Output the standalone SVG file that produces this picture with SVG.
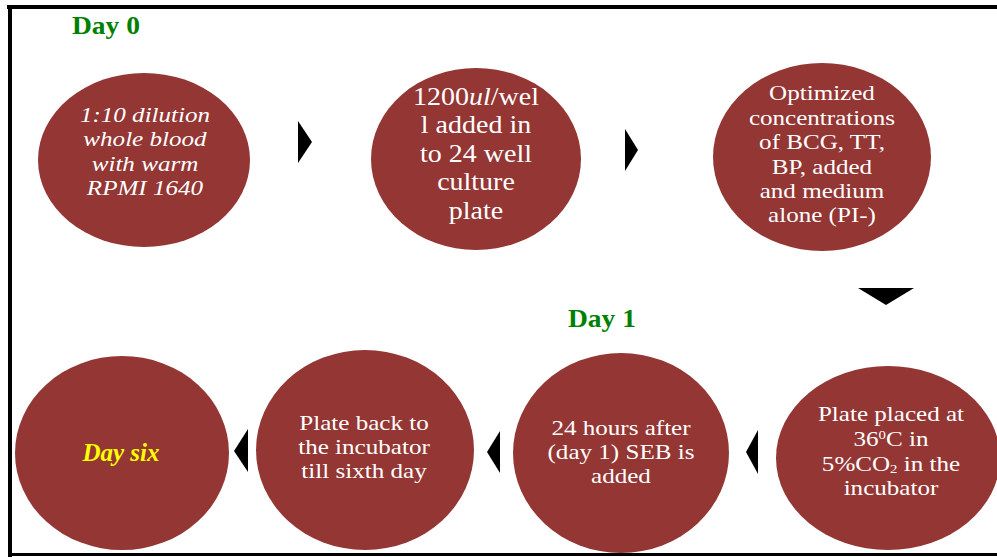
<svg xmlns="http://www.w3.org/2000/svg" width="997" height="557" viewBox="0 0 997 557">
<style>
.c{fill:#933634}
.t{fill:#ffffff;text-anchor:middle;font-size:22px}
.d{fill:#008000;font-weight:bold;font-size:26px}
.a{fill:#000}
</style>
<rect x="0" y="0" width="997" height="557" fill="#fff"/>
<rect x="7" y="5" width="990" height="4" fill="#000"/>
<rect x="8" y="5" width="4" height="552" fill="#000"/>
<rect x="8" y="553" width="989" height="3" fill="#000"/>
<g font-family="'Liberation Serif', 'Times New Roman', serif">
<text class="d" x="72" y="34" textLength="68" lengthAdjust="spacingAndGlyphs">Day 0</text>
<text class="d" x="568" y="327" textLength="68" lengthAdjust="spacingAndGlyphs">Day 1</text>
<g id="n1"><ellipse class="c" cx="144" cy="160" rx="106" ry="87"/>
<text class="t" font-style="italic" transform="matrix(1.14,0,0,1,-20.3,0)"><tspan x="145" y="122">1:10 dilution</tspan><tspan x="145" y="146">whole blood</tspan><tspan x="145" y="171">with warm</tspan><tspan x="145" y="195">RPMI 1640</tspan></text></g>
<g id="n2"><ellipse class="c" cx="476" cy="159" rx="105" ry="91"/>
<text class="t" style="font-size:25px" transform="matrix(1.12,0,0,1,-57.12,0)"><tspan x="476" y="105">1200<tspan font-style="italic">ul</tspan>/wel</tspan><tspan x="476" y="133">l added in</tspan><tspan x="476" y="162">to 24 well</tspan><tspan x="476" y="190">culture</tspan><tspan x="476" y="219">plate</tspan></text></g>
<g id="n3"><ellipse class="c" cx="822" cy="157" rx="109" ry="94"/>
<text class="t" transform="matrix(1.14,0,0,1,-115.08,0)"><tspan x="822" y="100">Optimized</tspan><tspan x="822" y="125">concentrations</tspan><tspan x="822" y="149">of BCG, TT,</tspan><tspan x="822" y="174">BP,  added</tspan><tspan x="822" y="198">and medium</tspan><tspan x="822" y="222">alone (PI-)</tspan></text></g>
<g id="n4"><ellipse class="c" cx="888" cy="458" rx="112" ry="92"/>
<g transform="matrix(1.14,0,0,1,-124.74,0)">
<text class="t" x="891" y="421">Plate placed at</text>
<text class="t" x="891" y="446">36<tspan font-size="13" baseline-shift="7">0</tspan>C in</text>
<text class="t" x="891" y="471">5%CO<tspan font-size="13" baseline-shift="-2">2</tspan> in the</text>
<text class="t" x="891" y="495">incubator</text></g></g>
<g id="n5"><ellipse class="c" cx="621" cy="453" rx="108" ry="100"/>
<text class="t" transform="matrix(1.14,0,0,1,-86.94,0)"><tspan x="621" y="435">24 hours after</tspan><tspan x="621" y="459">(day 1) SEB is</tspan><tspan x="621" y="483">added</tspan></text></g>
<g id="n6"><ellipse class="c" cx="365" cy="450" rx="109" ry="100"/>
<text class="t" transform="matrix(1.14,0,0,1,-50.96,0)"><tspan x="364" y="430">Plate back to</tspan><tspan x="364" y="454">the incubator</tspan><tspan x="364" y="478">till sixth day</tspan></text></g>
<g id="n7"><ellipse class="c" cx="122" cy="453" rx="107" ry="97"/>
<text class="t" font-style="italic" font-weight="bold" style="fill:#ffff00;font-size:25px" x="121" y="461">Day six</text></g>
</g>
<g id="connectors">
<polygon class="a" points="298,121 312,142 298,163"/>
<polygon class="a" points="625,129 638,150 625,171"/>
<polygon class="a" points="858,288 914,288 886,305"/>
<polygon class="a" points="758,430 746,452 758,474"/>
<polygon class="a" points="500,431 487,452 500,473"/>
<polygon class="a" points="248,429 234,451 248,472"/>
</g>
</svg>
